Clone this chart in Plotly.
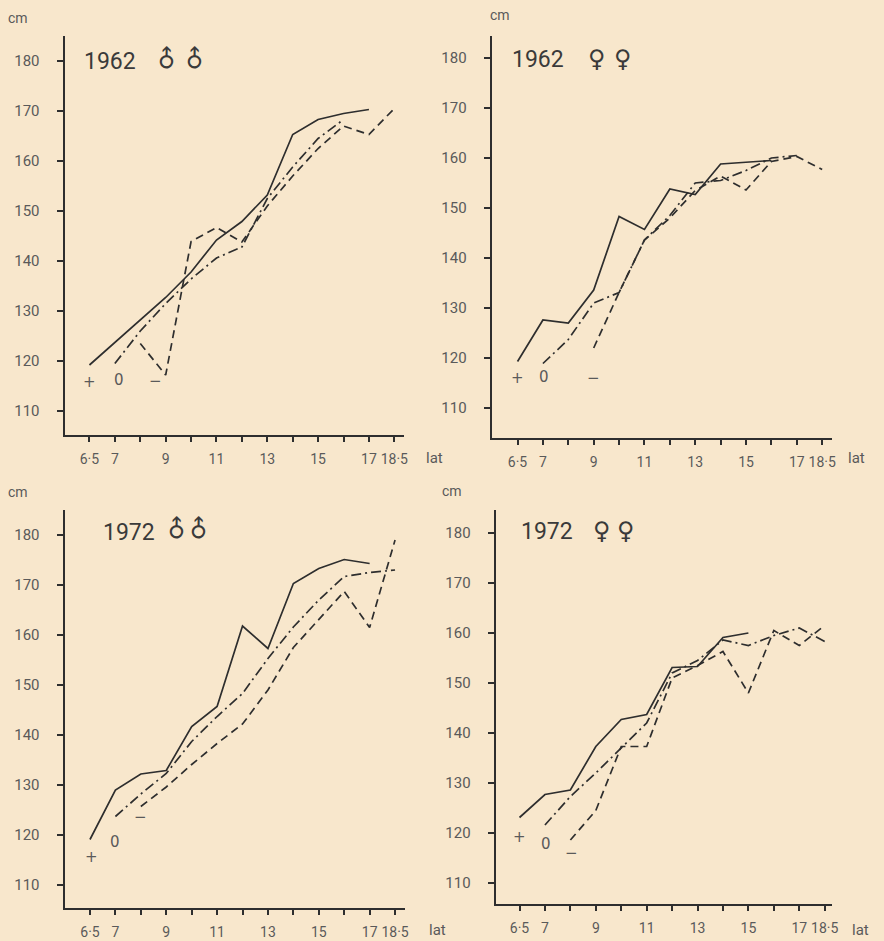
import plotly.graph_objects as go

W, H = 884, 941

AGES = ["6·5", "7", "8", "9", "10", "11", "12", "13", "14", "15", "16", "17", "18·5"]
AGE_LABELS = ["6·5", "7", "", "9", "", "11", "", "13", "", "15", "", "17", "18·5"]
Y_TICKS = [110, 120, 130, 140, 150, 160, 170, 180]

# 1962 boys
m62_plus = [119.2, 123.7, 128.2, 132.7, 137.8, 144.2, 147.9, 153.2, 165.3, 168.3, 169.5, 170.3, None]
m62_zero = [None, 119.5, 126.0, 131.5, 136.4, 140.6, 142.8, 152.5, 158.8, 164.5, 168.3, None, None]
m62_minus = [None, None, 123.5, 117.2, 143.9, 146.7, 143.8, 151.0, 157.0, 162.5, 167.0, 165.3, 170.5]
# 1962 girls
f62_plus = [119.3, 127.6, 127.0, 133.6, 148.3, 145.7, 153.8, 152.7, 158.8, 159.2, 159.5, None, None]
f62_zero = [None, 118.9, 123.7, 131.0, 133.1, 143.6, 148.5, 155.0, 155.5, 157.5, 160.0, 160.5, None]
f62_minus = [None, None, None, 122.0, 133.1, 143.6, 148.0, 153.5, 156.4, 153.6, 159.3, 160.3, 157.7]
# 1972 boys
m72_plus = [119.1, 129.0, 132.2, 132.9, 141.7, 145.7, 161.8, 157.3, 170.3, 173.3, 175.1, 174.3, None]
m72_zero = [None, 123.7, 128.2, 132.3, 138.7, 143.7, 148.3, 155.3, 161.6, 167.0, 171.7, 172.5, 173.0]
m72_minus = [None, None, 125.7, 129.6, 134.1, 138.3, 142.2, 149.0, 157.5, 163.2, 168.7, 161.5, 179.0]
# 1972 girls
f72_plus = [123.1, 127.7, 128.6, 137.3, 142.7, 143.7, 153.1, 153.3, 159.1, 160.0, None, None, None]
f72_zero = [None, 121.6, 127.3, 132.0, 137.0, 142.0, 152.0, 154.5, 158.6, 157.5, 159.5, 161.0, 158.3]
f72_minus = [None, None, 118.6, 124.5, 137.3, 137.3, 151.0, 153.5, 156.3, 148.0, 160.5, 157.5, 161.5]

PAPER = "#f8e7cc"
INK = "#2e2e2e"
TXT = "#5a5a5a"
FONT = "Roboto"
TFONT = "DejaVu Sans"


def px2x(px):
    return px / W


def px2y(py):
    return 1 - py / H


panels = [
    dict(l=65, r=407, t=36, b=435, xr=[-0.98, 12.39], yr=[105.2, 185.0],
         series=(m62_plus, m62_zero, m62_minus), year="1962", sym="♂", male=True,
         marks=[("+", 0, 115.8), ("0", 1.15, 116.2), ("−", 2.6, 116.0)],
         cm=(18, 18), lat=(437, 458), title=(111, 62), symx=(168, 196)),
    dict(l=495, r=838, t=36, b=438, xr=[-1.02, 12.4], yr=[104.0, 184.4],
         series=(f62_plus, f62_zero, f62_minus), year="1962", sym="♀", male=False,
         marks=[("+", 0, 116.0), ("0", 1.05, 116.2), ("−", 3.0, 116.0)],
         cm=(503, 15), lat=(862, 458), title=(542, 59), symx=(601, 627)),
    dict(l=65, r=408, t=510, b=908, xr=[-1.0, 12.4], yr=[105.4, 185.0],
         series=(m72_plus, m72_zero, m72_minus), year="1972", sym="♂", male=True,
         marks=[("+", 0.05, 115.6), ("0", 1.0, 118.6), ("−", 2.0, 123.6)],
         cm=(18, 492), lat=(440, 930), title=(130, 532), symx=(178, 200)),
    dict(l=499, r=838, t=510, b=904, xr=[-0.94, 12.3], yr=[105.8, 184.6],
         series=(f72_plus, f72_zero, f72_minus), year="1972", sym="♀", male=False,
         marks=[("+", 0.0, 119.3), ("0", 1.05, 117.9), ("−", 2.05, 116.0)],
         cm=(455, 491), lat=(866, 930), title=(551, 531), symx=(606, 630)),
]

dashes = ["solid", "10px,4px,2px,4px", "8px,5px"]

fig = go.Figure()
layout = {}
annotations = []


def note(text, x, y, size, color=TXT, angle=0, family=FONT):
    return dict(text=text, x=px2x(x), y=px2y(y), xref="paper", yref="paper",
                xanchor="center", yanchor="middle", showarrow=False, textangle=angle,
                font=dict(family=family, size=size, color=color))


for i, p in enumerate(panels):
    n = "" if i == 0 else str(i + 1)
    xa, ya = "xaxis" + n, "yaxis" + n
    xr_, yr_ = "x" + n, "y" + n
    layout[xa] = dict(
        domain=[px2x(p["l"]), px2x(p["r"])], range=p["xr"], anchor=yr_,
        showline=True, linecolor=INK, linewidth=2, ticks="outside", ticklen=5,
        tickwidth=1.5, tickcolor=INK, tickvals=list(range(len(AGES))),
        ticktext=AGE_LABELS, tickangle=0,
        tickfont=dict(family=FONT, size=14, color=TXT),
        showgrid=False, zeroline=False, ticklabelstandoff=5, fixedrange=True,
    )
    layout[ya] = dict(
        domain=[px2y(p["b"]), px2y(p["t"])], range=p["yr"], anchor=xr_,
        showline=True, linecolor=INK, linewidth=2, ticks="outside", ticklen=6,
        tickwidth=1.5, tickcolor=INK, tickvals=Y_TICKS,
        tickfont=dict(family=FONT, size=15, color=TXT),
        showgrid=False, zeroline=False, ticklabelstandoff=14, fixedrange=True,
    )
    for s, d in zip(p["series"], dashes):
        fig.add_trace(go.Scatter(
            x=list(range(len(AGES))), y=s, mode="lines", xaxis=xr_, yaxis=yr_,
            line=dict(color=INK, width=1.7, dash=d), connectgaps=False,
            showlegend=False, hoverinfo="skip",
        ))
    for txt, xv, yv in p["marks"]:
        annotations.append(dict(text=txt, x=xv, y=yv, xref=xr_, yref=yr_,
                                xanchor="center", yanchor="middle", showarrow=False,
                                font=dict(family=TFONT, size=15, color=TXT)))
    annotations.append(note(p["year"], p["title"][0], p["title"][1], 23, "#3a3a3a"))
    for sx in p["symx"]:
        annotations.append(note(p["sym"], sx, p["title"][1] - (3 if p["male"] else 0), 24,
                                "#3a3a3a", -45 if p["male"] else 0, TFONT))
    annotations.append(note("cm", p["cm"][0], p["cm"][1], 14))
    annotations.append(note("lat", p["lat"][0], p["lat"][1], 15))

fig.update_layout(
    width=W, height=H, margin=dict(l=0, r=0, t=0, b=0),
    paper_bgcolor=PAPER, plot_bgcolor=PAPER,
    annotations=annotations, showlegend=False, **layout,
)

fig.write_html(
    "out.html",
    config={"displayModeBar": False},
    post_script="document.body.style.margin='0';document.body.style.overflow='hidden';"
                "document.body.style.background='" + PAPER + "';",
)
